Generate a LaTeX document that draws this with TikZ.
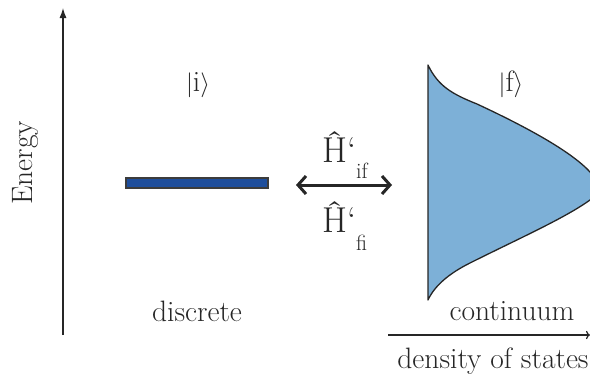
\documentclass[tikz,border=0pt]{standalone}
\usepackage{fontspec}
\usetikzlibrary{arrows.meta}
\definecolor{ink}{HTML}{262626}
\definecolor{barblue}{HTML}{1E4E9C}
\definecolor{contblue}{HTML}{7DB0D7}
\begin{document}
\begin{tikzpicture}[x=1pt,y=-1pt,
  lbl/.style={text=ink,font=\fontsize{29.5}{34}\selectfont,inner sep=0pt},
  axis/.style={draw=ink,line width=1.2pt},
  ham/.style={text=ink,font=\fontsize{36}{42}\selectfont,inner sep=0pt,anchor=base west}]
\useasboundingbox (0,0) rectangle (590,380);
\clip (0,0) rectangle (590,380);
% energy axis
\coordinate (ebot) at (63,335);
\coordinate (etop) at (63,8);
\draw[axis,-{Latex[length=10pt,width=7pt]}] (ebot) -- (etop);
\node[lbl,rotate=90] (energy) at (25,163) {Energy};
% discrete level
\node[draw=ink!90,line width=1.6pt,fill=barblue,minimum width=142pt,minimum height=10pt,inner sep=0pt] (bar) at (197,183) {};
\node[lbl] (ki) at (198,85) {$|\mathrm{i}\big\rangle$};
\node[lbl] (disc) at (197,311) {discrete};
% coupling
\coordinate (al) at (296,185);
\coordinate (ar) at (392,185);
\draw[draw=ink,line width=3pt,{Straight Barb[length=8pt,width=18pt]}-{Straight Barb[length=8pt,width=18pt]}] (al) -- (ar);
\node[ham] (hif) at (322,162) {\^H‘\raisebox{-0.45em}{\fontsize{22}{26}\selectfont if}};
\node[ham] (hfi) at (322,232) {\^H‘\raisebox{-0.5em}{\fontsize{22}{26}\selectfont fi}};
% continuum
\draw[draw=ink,line width=1.3pt,fill=contblue,line join=round]
  (428,65) .. controls (438,86) and (452,94) .. (477,104)
  .. controls (520,124) and (570,150) .. (590,172)
  .. controls (598,180) and (598,193) .. (590,200)
  .. controls (565,218) and (520,238) .. (470,263)
  .. controls (450,273) and (435,285) .. (428,300) -- cycle;
\node[lbl] (kf) at (511,84) {$|\mathrm{f}\big\rangle$};
\node[lbl] (cont) at (512,311) {continuum};
% density axis
\coordinate (dl) at (388,335);
\coordinate (dr) at (590,335);
\draw[axis,-{To[length=4pt]}] (dl) -- (dr);
\node[lbl] (dos) at (493,361) {density of states};
\end{tikzpicture}
\end{document}
